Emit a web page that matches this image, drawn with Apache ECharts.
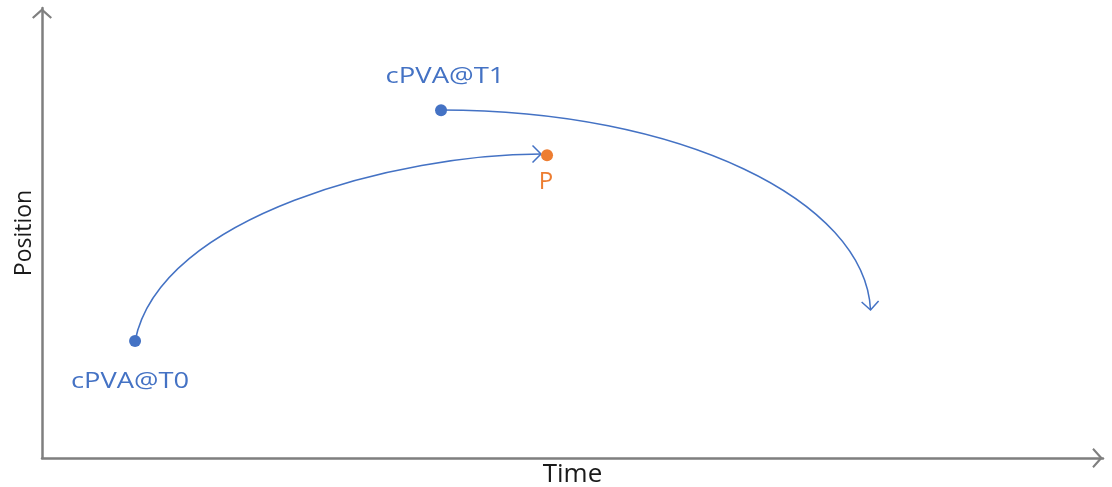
<!DOCTYPE html>
<html>
<head>
<meta charset="utf-8">
<script src="https://cdn.jsdelivr.net/npm/echarts@6/dist/echarts.min.js"></script>
<style>
  html, body { margin: 0; padding: 0; background: #fff; }
  #chart { width: 1112px; height: 487px; }
</style>
</head>
<body>
<div id="chart"></div>
<script>
// named points (axis units 0..100)
const pointNames = ["cPVA@T0", "cPVA@T1", "P"];
const pointX = [8.77, 37.61, 47.6];
const pointY = [26.0, 77.3, 67.3];

// curve from cPVA@T0 to P: start, two bezier control points, end
const curveToPX = [8.77, 11.12, 33.74, 47.03];
const curveToPY = [26.0, 54.0, 67.56, 67.56];

// curve leaving cPVA@T1: start, two bezier control points, end
const curveFromT1X = [37.61, 60.13, 77.57, 78.09];
const curveFromT1Y = [77.33, 77.33, 57.33, 32.89];

const BLUE = "#4472C4";
const ORANGE = "#ED7D31";
const AXIS = "#7f7f7f";
const FONT = "'Open Sans', 'Noto Sans', sans-serif";

const pointColors = [BLUE, BLUE, ORANGE];
// label placement (pixel offsets from the point), font size, horizontal stretch
const labelStyle = [
  { dx: -5, dy: 41, size: 22, sx: 1.24, color: BLUE },
  { dx: 4, dy: -33, size: 22, sx: 1.25, color: BLUE },
  { dx: -1, dy: 27, size: 24, sx: 1, color: ORANGE }
];

const chevron = "path://M0,18 L20,0 L40,18 L37,21 L20,6 L3,21 Z";

const curveSeries = (xs, ys) => ({
  type: "custom",
  coordinateSystem: "cartesian2d",
  data: [xs.flatMap((x, i) => [x, ys[i]])],
  encode: { x: [0, 2, 4, 6], y: [1, 3, 5, 7] },
  silent: true,
  z: 2,
  renderItem: (params, api) => {
    const p = [0, 1, 2, 3].map((k) => api.coord([api.value(2 * k), api.value(2 * k + 1)]));
    // arrow head follows the end tangent
    const ang = Math.atan2(p[3][1] - p[2][1], p[3][0] - p[2][0]);
    const len = 12;
    const spread = Math.PI / 4;
    const h1 = [p[3][0] - len * Math.cos(ang - spread), p[3][1] - len * Math.sin(ang - spread)];
    const h2 = [p[3][0] - len * Math.cos(ang + spread), p[3][1] - len * Math.sin(ang + spread)];
    const style = { stroke: BLUE, fill: null, lineWidth: 1.5 };
    return {
      type: "group",
      children: [
        {
          type: "bezierCurve",
          shape: {
            x1: p[0][0], y1: p[0][1],
            cpx1: p[1][0], cpy1: p[1][1],
            cpx2: p[2][0], cpy2: p[2][1],
            x2: p[3][0], y2: p[3][1]
          },
          style: style
        },
        { type: "polyline", shape: { points: [h1, p[3], h2] }, style: style }
      ]
    };
  }
});

const axisLine = {
  show: true,
  symbol: ["none", chevron],
  symbolSize: [20, 11],
  symbolOffset: [0, -5.5],
  lineStyle: { color: AXIS, width: 2.5 }
};

const getOption = () => {
  return {
    animation: false,
    backgroundColor: "#fff",
    grid: { left: 42, right: 9, top: 8, bottom: 29, outerBoundsMode: "none", containLabel: false },
    xAxis: {
      type: "value",
      min: 0,
      max: 100,
      name: "Time",
      nameLocation: "middle",
      nameGap: 4,
      nameTextStyle: { fontFamily: FONT, fontSize: 26, color: "#1a1a1a" },
      axisLine: axisLine,
      axisTick: { show: false },
      axisLabel: { show: false },
      splitLine: { show: false }
    },
    yAxis: {
      type: "value",
      min: 0,
      max: 100,
      name: "Position",
      nameLocation: "middle",
      nameGap: 6,
      nameTextStyle: { fontFamily: FONT, fontSize: 23, color: "#1a1a1a" },
      axisLine: axisLine,
      axisTick: { show: false },
      axisLabel: { show: false },
      splitLine: { show: false }
    },
    series: [
      curveSeries(curveToPX, curveToPY),
      curveSeries(curveFromT1X, curveFromT1Y),
      {
        type: "scatter",
        z: 4,
        symbolSize: 12,
        data: pointX.map((x, i) => ({
          value: [x, pointY[i]],
          itemStyle: { color: pointColors[i], opacity: 1 }
        }))
      },
      {
        type: "custom",
        coordinateSystem: "cartesian2d",
        z: 5,
        silent: true,
        data: pointX.map((x, i) => [x, pointY[i], i]),
        renderItem: (params, api) => {
          const i = api.value(2);
          const c = api.coord([api.value(0), api.value(1)]);
          const s = labelStyle[i];
          return {
            type: "text",
            x: c[0] + s.dx,
            y: c[1] + s.dy,
            scaleX: s.sx,
            style: {
              text: pointNames[i],
              fill: s.color,
              font: s.size + "px " + FONT,
              align: "center",
              verticalAlign: "middle"
            }
          };
        }
      }
    ]
  };
};

const initChart = () => {
  const chart = echarts.init(document.getElementById("chart"));
  chart.setOption(getOption());
};

window.addEventListener("load", () => {
  initChart();
});
</script>
</body>
</html>
